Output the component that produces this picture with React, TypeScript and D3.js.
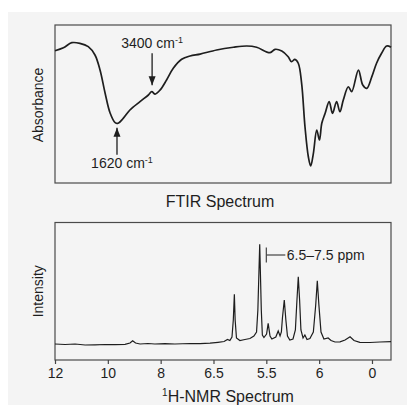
import React from 'react';
import * as d3 from 'd3';

// FTIR trace: position across the scan (0-100) and absorbance (0-1)
const ftirPos = [
  0, 2.5, 5.0, 7.4, 9.9, 11.9, 13.4, 14.9, 16.4, 17.9, 18.8, 20.3, 22.3, 25.3, 27.8, 28.8,
  29.8, 31.3, 33.2, 35.2, 37.7, 40.2, 43.2, 48.1, 53.1, 57.1, 60.0, 64.0, 65.5, 67.5, 69.4,
  70.4, 71.4, 72.4, 73.4, 74.4, 75.4, 76.1, 76.9, 77.9, 78.7, 79.4, 80.4, 81.6, 82.6, 83.8,
  84.8, 85.8, 87.3, 88.3, 90.3, 91.6, 92.8, 94.3, 95.7, 97.2, 98.7, 100,
];
const ftirAbs = [
  0.837, 0.856, 0.888, 0.884, 0.863, 0.81, 0.715, 0.57, 0.443, 0.382, 0.378, 0.409, 0.462,
  0.515, 0.557, 0.578, 0.563, 0.589, 0.652, 0.726, 0.783, 0.804, 0.816, 0.842, 0.859, 0.867,
  0.859, 0.825, 0.846, 0.835, 0.799, 0.768, 0.783, 0.758, 0.631, 0.356, 0.166, 0.108, 0.188,
  0.335, 0.272, 0.378, 0.441, 0.515, 0.441, 0.515, 0.451, 0.525, 0.609, 0.578, 0.715, 0.62,
  0.599, 0.673, 0.758, 0.821, 0.867, 0.859,
];

// FTIR arrow callouts
const ftirLabels = ['3400', '1620'];
const ftirLabelPos = [28.9, 18.45];
const ftirLabelAbs = [0.578, 0.378];
const ftirLabelDir = ['down', 'up'];

// NMR trace: chemical shift (ppm) and intensity
const nmrPpm = [
  12.0, 11.62, 11.24, 10.86, 10.49, 10.11, 9.73, 9.35, 9.16, 9.06, 8.95, 8.78, 8.48, 8.22,
  7.84, 7.46, 6.89, 6.51, 6.13, 5.83, 5.6, 5.47, 5.38, 5.3, 5.25, 5.21, 5.18, 5.13, 5.0, 4.81,
  4.62, 4.47, 4.37, 4.32, 4.25, 4.19, 4.15, 4.09, 3.99, 3.93, 3.86, 3.79, 3.64, 3.55, 3.48,
  3.43, 3.39, 3.32, 3.26, 3.2, 3.11, 2.99, 2.9, 2.84, 2.79, 2.74, 2.69, 2.61, 2.54, 2.46,
  2.35, 2.22, 2.13, 2.07, 2.01, 1.93, 1.82, 1.66, 1.55, 1.4, 1.21, 1.02, 0.83, 0.68, 0.46,
  0.08, -0.3, -0.72,
];
const nmrInt = [
  0, -0.005, 0, -0.01, -0.008, -0.005, -0.006, -0.003, 0.01, 0.033, 0.01, 0, 0.005, 0,
  0.003, 0, 0.005, 0.004, 0.008, 0.017, 0.025, 0.045, 0.035, 0.07, 0.24, 0.497, 0.24, 0.06,
  0.035, 0.045, 0.055, 0.08, 0.12, 0.34, 0.997, 0.34, 0.09, 0.065, 0.1, 0.207, 0.08, 0.05,
  0.07, 0.13, 0.08, 0.12, 0.26, 0.44, 0.24, 0.08, 0.04, 0.05, 0.14, 0.44, 0.673, 0.44, 0.14,
  0.06, 0.09, 0.045, 0.055, 0.12, 0.39, 0.633, 0.39, 0.12, 0.05, 0.06, 0.035, 0.02, 0.022,
  0.04, 0.073, 0.035, 0.017, 0.015, 0.02, 0.023,
];

const nmrTicks = [12, 10, 8, 6, 4, 2, 0];
const nmrTickLabels = ['12', '10', '8', '6.5', '5.5', '6', '0'];

const nmrNote = '6.5\u20137.5 ppm';
const nmrNotePpm = 4.0;
const nmrNoteInt = 0.89;

const FONT = '"Liberation Sans", Arial, Helvetica, sans-serif';
const INK = '#1e1e1e';

const box = { left: 55, right: 391 };
const top = { y0: 25, y1: 183 };
const bot = { y0: 222.5, y1: 360 };

export default function App() {
  const xF = d3.scaleLinear().domain([0, 100]).range([box.left, box.right]);
  const yF = d3.scaleLinear().domain([0, 1]).range([top.y1, top.y0]);
  const xN = d3.scaleLinear().domain([12, -0.72]).range([box.left, box.right]);
  const yN = d3.scaleLinear().domain([-0.16, 1.215]).range([bot.y1, bot.y0]);

  const ftirLine = d3
    .line<number>()
    .x((d, i) => xF(ftirPos[i]))
    .y((d) => yF(d))
    .curve(d3.curveCatmullRom.alpha(0.5));

  const nmrLine = d3
    .line<number>()
    .x((d, i) => xN(nmrPpm[i]))
    .y((d) => yN(d))
    .curve(d3.curveLinear);

  const axisRef = React.useRef<SVGGElement>(null);
  React.useEffect(() => {
    const g = d3.select(axisRef.current);
    g.selectAll('*').remove();
    g.call(
      d3
        .axisBottom(xN)
        .tickValues(nmrTicks)
        .tickFormat((d, i) => nmrTickLabels[i])
        .tickSize(4)
        .tickPadding(4)
    );
    g.select('.domain').remove();
    g.selectAll('line').attr('stroke', '#444').attr('stroke-width', 1.2);
    g.selectAll('text')
      .attr('font-family', FONT)
      .attr('font-size', 14)
      .attr('fill', INK);
  }, []);

  const arrowHead = (x: number, tipY: number, dir: string) => {
    const s = dir === 'down' ? -1 : 1;
    return `M${x},${tipY} L${x - 3.5},${tipY + s * 9} L${x + 3.5},${tipY + s * 9} Z`;
  };

  return (
    <div style={{ position: 'absolute', left: 0, top: 0 }}>
      <svg width={407} height={405} style={{ display: 'block' }}>
        <rect x={0} y={0} width={407} height={405} fill="#ffffff" />
        <rect x={8} y={12} width={399} height={393} fill="#f4f4f4" />

        {/* FTIR panel */}
        <rect
          x={box.left}
          y={top.y0}
          width={box.right - box.left}
          height={top.y1 - top.y0}
          fill="none"
          stroke="#4a4a4a"
          strokeWidth={1.2}
        />
        <path d={ftirLine(ftirAbs) || ''} fill="none" stroke={INK} strokeWidth={1.7} />
        {ftirLabels.map((lab, i) => {
          const x = xF(ftirLabelPos[i]);
          const cy = yF(ftirLabelAbs[i]);
          const down = ftirLabelDir[i] === 'down';
          const tip = down ? cy - 6.5 : cy + 4.5;
          const tail = down ? tip - 32 : tip + 27;
          const textY = down ? tail - 5 : tail + 13;
          return (
            <g key={lab}>
              <line x1={x} x2={x} y1={tail} y2={tip} stroke={INK} strokeWidth={1.3} />
              <path d={arrowHead(x, tip, ftirLabelDir[i])} fill={INK} />
              <text
                x={down ? x : x + 5}
                y={textY}
                textAnchor="middle"
                fontFamily={FONT}
                fontSize={14}
                fill={INK}
              >
                {lab} cm
                <tspan fontSize={9} dy={-5}>
                  -1
                </tspan>
              </text>
            </g>
          );
        })}
        <text
          transform={`translate(43,${(top.y0 + top.y1) / 2 + 1}) rotate(-90)`}
          textAnchor="middle"
          fontFamily={FONT}
          fontSize={14}
          fill={INK}
        >
          Absorbance
        </text>
        <text
          x={220}
          y={206.5}
          textAnchor="middle"
          fontFamily={FONT}
          fontSize={16}
          fill={INK}
        >
          FTIR Spectrum
        </text>

        {/* NMR panel */}
        <rect
          x={box.left}
          y={bot.y0}
          width={box.right - box.left}
          height={bot.y1 - bot.y0}
          fill="none"
          stroke="#4a4a4a"
          strokeWidth={1.2}
        />
        <path d={nmrLine(nmrInt) || ''} fill="none" stroke={INK} strokeWidth={1.2} />
        <g>
          <line
            x1={xN(nmrNotePpm)}
            x2={xN(nmrNotePpm)}
            y1={yN(nmrNoteInt) - 7.5}
            y2={yN(nmrNoteInt) + 7.5}
            stroke="#444"
            strokeWidth={1.2}
          />
          <line
            x1={xN(nmrNotePpm)}
            x2={xN(nmrNotePpm) + 19}
            y1={yN(nmrNoteInt)}
            y2={yN(nmrNoteInt)}
            stroke="#444"
            strokeWidth={1.2}
          />
          <text
            x={xN(nmrNotePpm) + 20.5}
            y={yN(nmrNoteInt) + 5}
            fontFamily={FONT}
            fontSize={14}
            fill={INK}
          >
            {nmrNote}
          </text>
        </g>
        <g ref={axisRef} transform={`translate(0,${bot.y1})`} />
        <text
          transform={`translate(43,${(bot.y0 + bot.y1) / 2}) rotate(-90)`}
          textAnchor="middle"
          fontFamily={FONT}
          fontSize={14}
          fill={INK}
        >
          Intensity
        </text>
        <text
          x={228}
          y={401.5}
          textAnchor="middle"
          fontFamily={FONT}
          fontSize={16}
          fill={INK}
        >
          <tspan fontSize={10} dy={-6}>
            1
          </tspan>
          <tspan dy={6}>H-NMR Spectrum</tspan>
        </text>
      </svg>
    </div>
  );
}
